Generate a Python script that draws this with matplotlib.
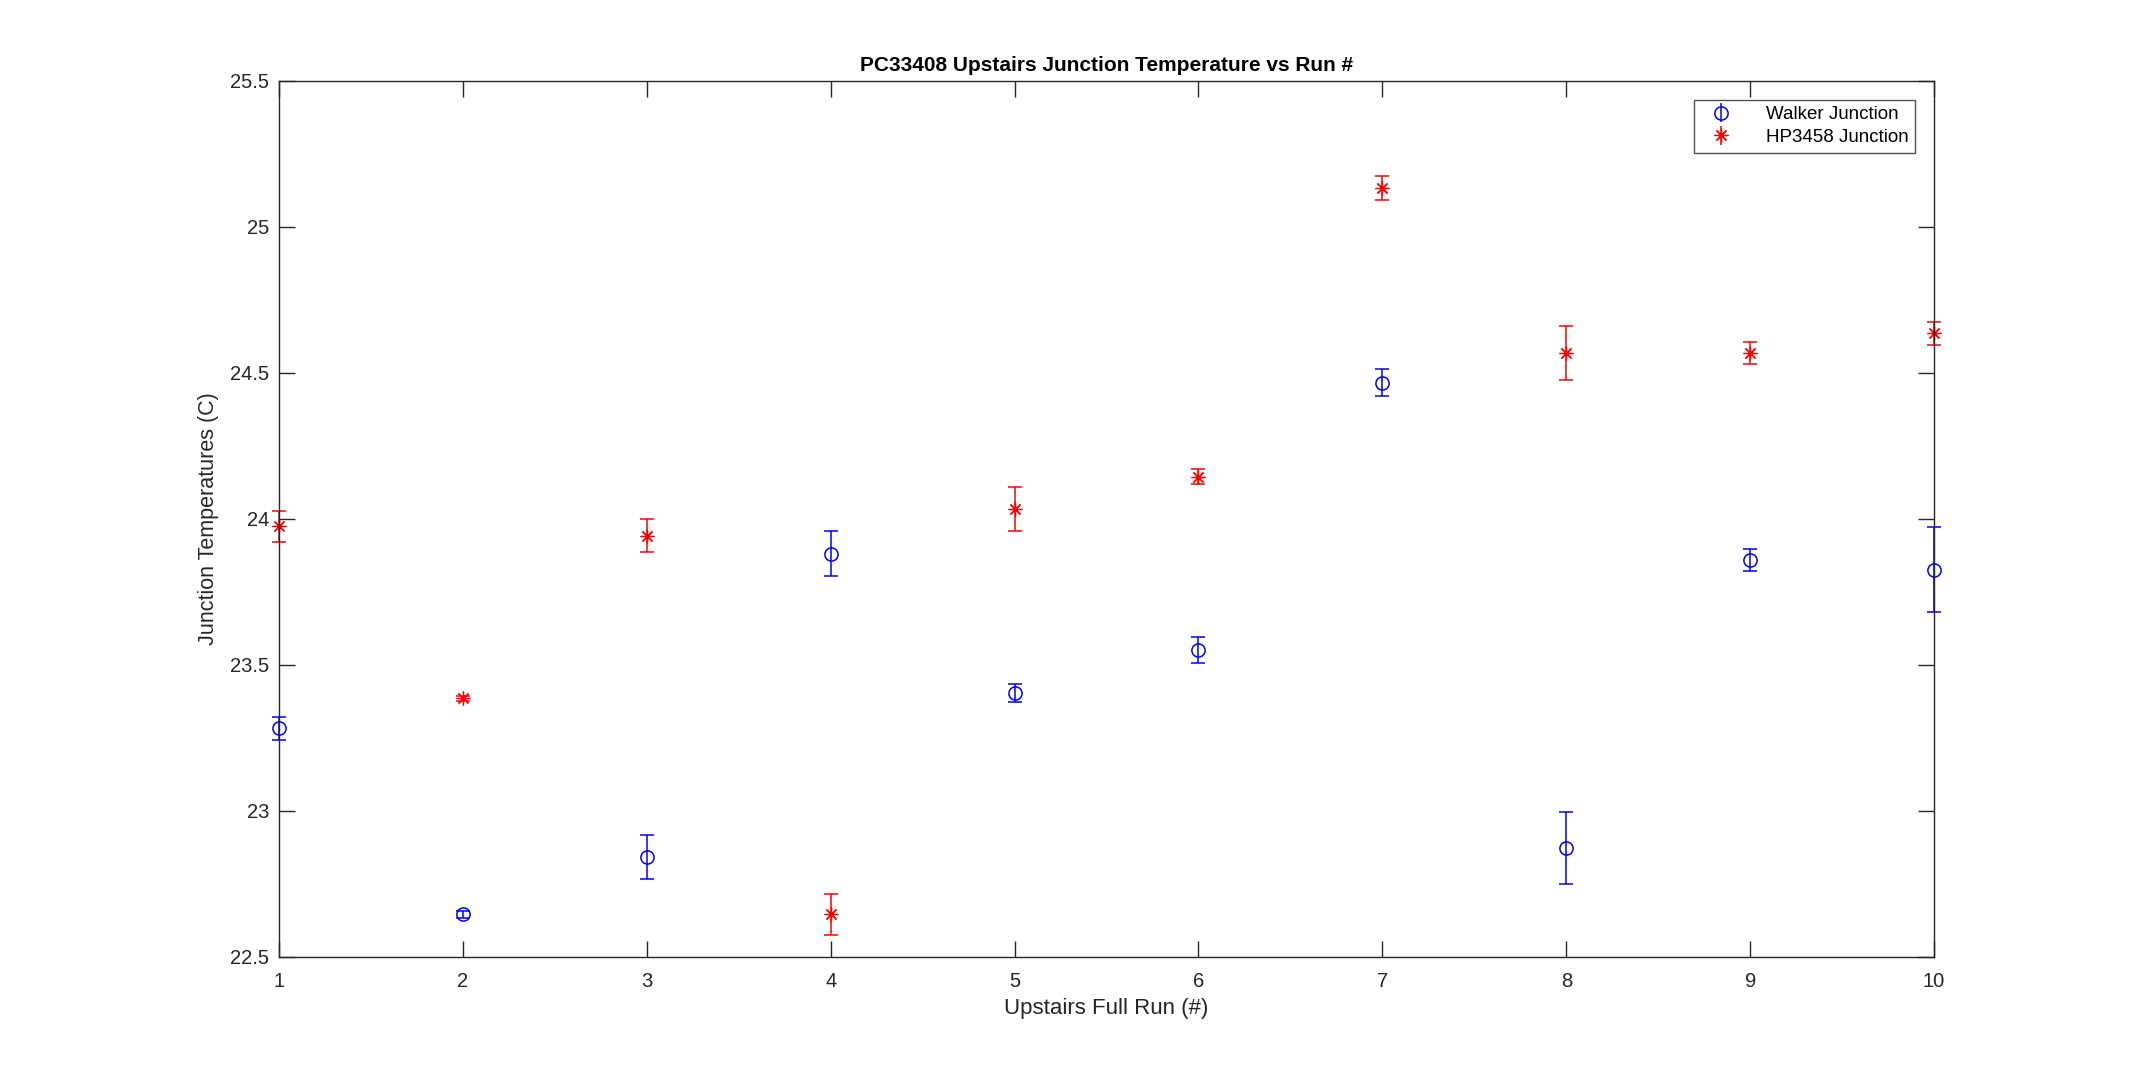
import matplotlib
matplotlib.use('Agg')
from matplotlib import pyplot as plt
from matplotlib.ticker import FormatStrFormatter
from matplotlib.lines import Line2D
import numpy as np

runs = [1, 2, 3, 4, 5, 6, 7, 8, 9, 10]
walker = [23.283, 22.646, 22.841, 23.880, 23.403, 23.551, 24.466, 22.873, 23.859, 23.826]
walker_err = [0.040, 0.012, 0.075, 0.077, 0.031, 0.043, 0.046, 0.122, 0.037, 0.146]
hp = [23.974, 23.386, 23.943, 22.646, 24.033, 24.145, 25.132, 24.567, 24.568, 24.635]
hp_err = [0.053, 0.008, 0.055, 0.070, 0.075, 0.025, 0.041, 0.092, 0.037, 0.038]

plt.rcParams['font.family'] = ['Liberation Sans', 'DejaVu Sans']

fig = plt.figure(figsize=(21.38, 10.75), dpi=100)
ax = fig.add_axes([0.1305, 0.1098, 0.7741, 0.815])

blue = '#0000ff'
red = '#ff0000'
lw = 1.1
cap = 4.7

eb_w = ax.errorbar(runs, walker, yerr=walker_err, fmt='o', color=blue, mfc='none',
                   ms=9.5, mew=lw, elinewidth=lw, capsize=cap, capthick=lw)
eb_h = ax.errorbar(runs, hp, yerr=hp_err, fmt='none', color=red,
                   elinewidth=lw, capsize=cap, capthick=lw)
star_pts, = ax.plot(runs, hp, linestyle='none', marker=(8, 2, 0), color=red,
                    ms=10, mew=0.9)

# let the marks at x=1 and x=10 spill over the axes box like the original
for eb in (eb_w, eb_h):
    for a in eb.get_children():
        a.set_clip_on(False)
star_pts.set_clip_on(False)

ax.set_xlim(1, 10)
ax.set_ylim(22.5, 25.5)
ax.set_xticks(runs)
ax.set_yticks(np.arange(22.5, 25.51, 0.5))
ax.yaxis.set_major_formatter(FormatStrFormatter('%g'))

dark = '#262626'
for s in ax.spines.values():
    s.set_color(dark)
    s.set_linewidth(1.0)
ax.tick_params(direction='in', length=11.5, width=1.0, color=dark, labelcolor=dark,
               labelsize=14.5, top=True, right=True)
ax.tick_params(axis='x', pad=11)
ax.tick_params(axis='y', pad=7)

ax.set_title('PC33408 Upstairs Junction Temperature vs Run #', fontsize=15,
             fontweight='bold', color='black', pad=7)
ax.set_xlabel('Upstairs Full Run (#)', fontsize=16, color=dark, labelpad=5)
ax.set_ylabel('Junction Temperatures (C)', fontsize=15.5, color=dark, labelpad=8)

# legend handles: errorbar symbol for each series
h_w = ax.errorbar([], [], yerr=[], fmt='o', color=blue, mfc='none', ms=9.5,
                  mew=lw, elinewidth=lw, capsize=cap, capthick=lw)
h_h = ax.errorbar([], [], yerr=[], fmt='none', color=red,
                  elinewidth=lw, capsize=cap, capthick=lw)
star = Line2D([], [], linestyle='none', marker=(8, 2, 0), color=red, ms=10, mew=0.9)
leg = ax.legend([h_w, (h_h, star)], ['Walker Junction', 'HP3458 Junction'],
                loc='upper right', fontsize=13.5, frameon=True, fancybox=False,
                edgecolor=dark, borderaxespad=1.0, handlelength=2.2,
                handletextpad=1.3, borderpad=0.35, labelspacing=0.3)
leg.get_frame().set_linewidth(1.0)

fig.savefig('out.png', dpi=100, facecolor='white')
